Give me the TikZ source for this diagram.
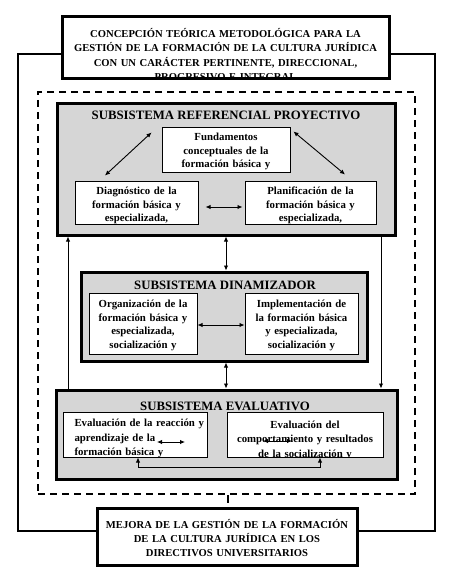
\documentclass[tikz,border=0pt]{standalone}
\usepackage{fontspec}
\setmainfont{Liberation Serif}
\usetikzlibrary{arrows.meta,calc}
\definecolor{subgray}{RGB}{214,214,214}
\tikzset{
  thickbox/.style={draw, line width=3pt, rectangle, inner sep=0pt, fill=white},
  subbox/.style={draw, line width=3pt, rectangle, inner sep=0pt, fill=subgray},
  wbox/.style={draw, line width=1pt, rectangle, inner sep=0pt, fill=white},
  txt/.style={font=\bfseries\fontsize{10.8}{13.6}\selectfont, align=center, inner sep=0pt, anchor=base},
  evtxt/.style={font=\bfseries\fontsize{10.8}{14.6}\selectfont, inner sep=0pt},
  toptxt/.style={font=\bfseries\fontsize{10.6}{14.3}\selectfont, align=center, inner sep=0pt, anchor=base},
  ttl/.style={font=\bfseries\fontsize{12.8}{15}\selectfont, inner sep=0pt, anchor=base},
  outerline/.style={line width=2pt},
  dsh/.style={draw, line width=2pt, dash pattern=on 7pt off 5pt, rectangle, inner sep=0pt},
  tip/.tip={Latex[length=5pt,width=4.5pt]},
  arr/.style={line width=0.9pt, tip-tip},
  arrone/.style={line width=0.9pt, -tip},
}
\begin{document}
\begin{tikzpicture}[x=1pt,y=-1pt]
\useasboundingbox (0,0) rectangle (456,583);
\fill[white] (0,0) rectangle (456,583);

% dashed frame
\node[dsh, minimum width=377pt, minimum height=402pt] (D) at (226.5,293) {};

% top and bottom boxes
\node[thickbox, minimum width=327pt, minimum height=62pt,
  path picture={\node[toptxt, text width=335pt] (Ttext) at ([yshift=-20.5pt]path picture bounding box.north)
  {CONCEPCIÓN TEÓRICA METODOLÓGICA PARA LA\\GESTIÓN DE LA FORMACIÓN DE LA CULTURA JURÍDICA\\CON UN CARÁCTER PERTINENTE, DIRECCIONAL,\\PROGRESIVO E INTEGRAL};}] (T) at (225.5,48) {};
\node[thickbox, minimum width=260pt, minimum height=57pt,
  path picture={\node[toptxt, text width=270pt] (Btext) at ([yshift=-20pt]path picture bounding box.north)
  {MEJORA DE LA GESTIÓN DE LA FORMACIÓN\\DE LA CULTURA JURÍDICA EN LOS\\DIRECTIVOS UNIVERSITARIOS};}] (B) at (227,536.5) {};

% outer feedback lines
\coordinate (OL) at (18,0);
\coordinate (OR) at (435,0);
\draw[outerline] ([yshift=-6pt]T.west) -| ([yshift=5.5pt]OL |- B.west) -- ([yshift=5.5pt]B.west);
\draw[outerline] ([yshift=-6pt]T.east) -| ([yshift=5.5pt]OR |- B.east) -- ([yshift=5.5pt]B.east);
\draw[outerline] ([xshift=1.5pt]D.south) -- ++(0,8);

% subsystem 1
\node[subbox, minimum width=338pt, minimum height=131pt] (S1) at (226,169.5) {};
\node[ttl] (S1t) at (226,120) {SUBSISTEMA REFERENCIAL PROYECTIVO};
\node[wbox, minimum width=128pt, minimum height=45pt,
  path picture={\node[txt, text width=140pt] (fundT) at ([yshift=-13.5pt]path picture bounding box.north)
  {Fundamentos\\conceptuales de la\\formación básica y};}] (fund) at (226,149.5) {};
\node[wbox, minimum width=123pt, minimum height=43pt,
  path picture={\node[txt, text width=135pt] (diagT) at ([yshift=-13.5pt]path picture bounding box.north)
  {Diagnóstico de la\\formación básica y\\especializada,};}] (diag) at (136.5,202.5) {};
\node[wbox, minimum width=131pt, minimum height=43pt,
  path picture={\node[txt, text width=140pt] (planT) at ([yshift=-13.5pt]path picture bounding box.north)
  {Planificación de la\\formación básica y\\especializada,};}] (plan) at (310.5,202.5) {};
\draw[arr] ([xshift=-10pt,yshift=-6pt]fund.north west) -- ([xshift=-31.5pt,yshift=5pt]diag.north);
\draw[arr] ([xshift=3pt,yshift=-5pt]fund.north east) -- ([xshift=34.5pt,yshift=6pt]plan.north);
\draw[arr] ([xshift=7pt,yshift=-4.5pt]diag.east) -- ([xshift=-2pt,yshift=-4.5pt]plan.west);

% subsystem 2
\node[subbox, minimum width=286pt, minimum height=89pt] (S2) at (224,316.5) {};
\node[ttl] (S2t) at (225,289.5) {SUBSISTEMA DINAMIZADOR};
\node[wbox, minimum width=108pt, minimum height=61pt,
  path picture={\node[txt, text width=120pt] (orgT) at ([yshift=-14.5pt]path picture bounding box.north)
  {Organización de la\\formación básica y\\especializada,\\socialización y};}] (org) at (143,323.5) {};
\node[wbox, minimum width=113pt, minimum height=61pt,
  path picture={\node[txt, text width=125pt] (implT) at ([yshift=-14.5pt]path picture bounding box.north)
  {Implementación de\\la formación básica\\y especializada,\\socialización y};}] (impl) at (301.5,323.5) {};
\draw[arr] ([yshift=-1.5pt]org.east) -- ([yshift=-1.5pt]impl.west);

% subsystem 3
\node[subbox, minimum width=341pt, minimum height=89pt] (S3) at (226.5,434.5) {};
\node[ttl] (S3t) at (225,410) {SUBSISTEMA EVALUATIVO};
\node[wbox, minimum width=144pt, minimum height=45pt,
  path picture={\node[evtxt, align=left, anchor=base west, text width=140pt] (ev1T) at ([xshift=9pt,yshift=-14.5pt]path picture bounding box.north west)
  {Evaluación de la reacción y\\aprendizaje de la\\formación básica y};}] (ev1) at (135,434.5) {};
\node[wbox, minimum width=156pt, minimum height=45pt,
  path picture={\node[evtxt, align=center, anchor=base, text width=170pt] (ev2T) at ([yshift=-16pt]path picture bounding box.north)
  {Evaluación del\\comportamiento y resultados\\de la socialización y};}] (ev2) at (305,434.5) {};
\draw[arr] ([xshift=22pt,yshift=-7.5pt]ev1.center) -- ([xshift=50pt,yshift=-7.5pt]ev1.center);
\draw[arr] ([xshift=-42pt,yshift=-6.5pt]ev2.center) -- ([xshift=-13pt,yshift=-6.5pt]ev2.center);
\draw[arr] ([xshift=3pt]ev1.south) -- ++(0,10) -| ([xshift=15pt]ev2.south);

% links between subsystems
\coordinate (LL) at (68,0);
\coordinate (RL) at (381,0);
\coordinate (ML) at (226,0);
\draw[arr] (ML |- S1.south) -- (ML |- S2.north);
\draw[arr] (ML |- S2.south) -- (ML |- S3.north);
\draw[arrone] (LL |- S3.north) -- (LL |- S1.south);
\draw[arrone] (RL |- S1.south) -- (RL |- S3.north);
\end{tikzpicture}
\end{document}
